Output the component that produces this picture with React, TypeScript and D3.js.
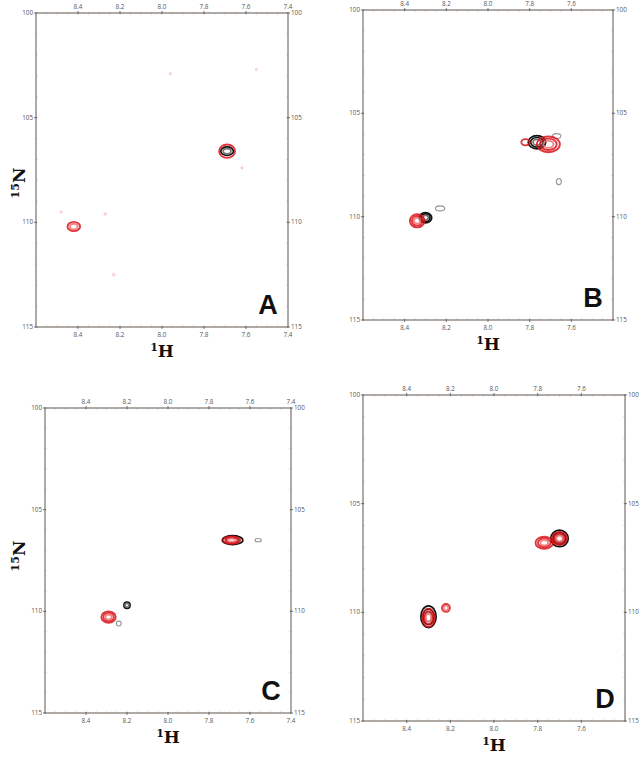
import React from "react";
import * as d3 from "d3";

// 1H / 15N ranges and ticks
const hDomain = [8.6, 7.4];
const nDomain = [100, 115];
const hTicks = [8.4, 8.2, 8.0, 7.8, 7.6, 7.4];
const nTicks = [100, 105, 110, 115];

// peaks: [1H ppm, 15N ppm, half width 1H, half width 15N, contour levels]
type Peak = [number, number, number, number, number];

const blackA: Peak[] = [[7.69, 106.6, 0.03, 0.2, 2]];
const redA: Peak[] = [[7.69, 106.6, 0.038, 0.32, 1], [8.42, 110.2, 0.03, 0.22, 2]];
const specksA: Peak[] = [
  [8.27, 109.6, 0.006, 0.06, 1], [7.96, 102.9, 0.005, 0.05, 1], [7.55, 102.7, 0.005, 0.05, 1],
  [8.23, 112.5, 0.006, 0.06, 1], [8.48, 109.5, 0.005, 0.05, 1], [7.62, 107.4, 0.005, 0.05, 1],
];

const blackB: Peak[] = [[7.765, 106.4, 0.042, 0.32, 3], [8.3, 110.05, 0.03, 0.25, 3]];
const redB: Peak[] = [[7.71, 106.5, 0.055, 0.38, 3], [8.34, 110.2, 0.035, 0.32, 3], [7.82, 106.4, 0.02, 0.15, 1]];
const grayB: Peak[] = [[7.67, 106.1, 0.02, 0.12, 1], [7.66, 108.3, 0.012, 0.15, 1], [8.23, 109.6, 0.022, 0.12, 1]];

const blackC: Peak[] = [[7.685, 106.5, 0.05, 0.22, 2], [8.2, 109.7, 0.015, 0.15, 2]];
const redC: Peak[] = [[7.69, 106.5, 0.042, 0.18, 3], [8.29, 110.28, 0.035, 0.28, 3]];
const grayC: Peak[] = [[8.24, 110.6, 0.012, 0.12, 1], [7.56, 106.5, 0.015, 0.08, 1]];

const blackD: Peak[] = [[7.7, 106.6, 0.04, 0.38, 3], [8.3, 110.2, 0.035, 0.5, 3]];
const redD: Peak[] = [[7.7, 106.6, 0.034, 0.3, 3], [7.77, 106.8, 0.04, 0.28, 3], [8.3, 110.25, 0.028, 0.42, 3], [8.22, 109.8, 0.018, 0.18, 2]];

const letters = ["A", "B", "C", "D"];
const hTopLabels = [hTicks, hTicks.slice(0, 5), hTicks, hTicks.slice(0, 5)];

const panels = [
  { x0: 36, x1: 288, y0: 13, y1: 327, black: blackA, red: redA, gray: specksA, nx: 11, ny: 183 },
  { x0: 363, x1: 613, y0: 10, y1: 320, black: blackB, red: redB, gray: grayB, nx: 0, ny: 0 },
  { x0: 45, x1: 291, y0: 408, y1: 713, black: blackC, red: redC, gray: grayC, nx: 20, ny: 556 },
  { x0: 363, x1: 625, y0: 395, y1: 721, black: blackD, red: redD, gray: [] as Peak[], nx: 0, ny: 0 },
];

function Peaks({ peaks, x, y, kind }: { peaks: Peak[]; x: any; y: any; kind: string }) {
  const out: any[] = [];
  peaks.forEach((p, i) => {
    const cx = x(p[0]);
    const cy = y(p[1]);
    const rx = Math.abs(x(p[0] + p[2]) - cx);
    const ry = Math.abs(y(p[1] + p[3]) - cy);
    for (let l = 0; l < p[4]; l++) {
      const f = 1 - l / (p[4] + 0.6);
      let stroke = "#111";
      let sw = 1.7;
      let op = 1;
      if (kind === "red") { stroke = l === p[4] - 1 && p[4] > 1 ? "#f07070" : "#d8141a"; sw = 1.9; op = 0.85; }
      if (kind === "gray") { stroke = "#8a8a8a"; sw = 1.1; op = 0.9; }
      if (kind === "speck") { stroke = "#f29a9a"; sw = 1; op = 0.6; }
      if (kind === "black" && l === p[4] - 1 && p[4] > 1) stroke = "#777";
      out.push(
        <ellipse key={i + "-" + l} cx={cx} cy={cy} rx={rx * f} ry={ry * f}
          fill="none" stroke={stroke} strokeWidth={sw} opacity={op} />
      );
    }
  });
  return <g>{out}</g>;
}

function Panel({ idx }: { idx: number }) {
  const p = panels[idx];
  const x = d3.scaleLinear().domain(hDomain).range([p.x0, p.x1]);
  const y = d3.scaleLinear().domain(nDomain).range([p.y0, p.y1]);
  const minorH = d3.range(8.6, 7.399, -0.05);
  const minorN = d3.range(100, 115.01, 1);
  const frame = "#9b9590";
  const labelStyle = { fontFamily: "'Open Sans', sans-serif", fontSize: 6.3, fill: "#555" };
  const hLabels = hTopLabels[idx];
  return (
    <g>
      <rect x={p.x0} y={p.y0} width={p.x1 - p.x0} height={p.y1 - p.y0} fill="none" stroke={frame} strokeWidth={1.6} />
      {minorH.map((v, i) => (
        <g key={"mh" + i} stroke={frame} strokeWidth={0.6}>
          <line x1={x(v)} x2={x(v)} y1={p.y0} y2={p.y0 + 1.5} />
          <line x1={x(v)} x2={x(v)} y1={p.y1} y2={p.y1 - 1.5} />
        </g>
      ))}
      {minorN.map((v, i) => (
        <g key={"mn" + i} stroke={frame} strokeWidth={0.6}>
          <line x1={p.x0} x2={p.x0 + 1.5} y1={y(v)} y2={y(v)} />
          <line x1={p.x1} x2={p.x1 - 1.5} y1={y(v)} y2={y(v)} />
        </g>
      ))}
      {hTicks.slice(0, 5).map((v) => (
        <g key={"th" + v} stroke="#555" strokeWidth={0.8}>
          <line x1={x(v)} x2={x(v)} y1={p.y0 - 2} y2={p.y0 + 1} />
          <line x1={x(v)} x2={x(v)} y1={p.y1 - 1} y2={p.y1 + 2} />
        </g>
      ))}
      {nTicks.map((v) => (
        <g key={"tn" + v} stroke="#555" strokeWidth={0.8}>
          <line x1={p.x0 - 2} x2={p.x0 + 1} y1={y(v)} y2={y(v)} />
          <line x1={p.x1 - 1} x2={p.x1 + 2} y1={y(v)} y2={y(v)} />
        </g>
      ))}
      {hLabels.map((v) => (
        <g key={"lh" + v}>
          <text x={x(v)} y={p.y0 - 4} textAnchor="middle" {...labelStyle}>{v.toFixed(1)}</text>
          <text x={x(v)} y={p.y1 + 10} textAnchor="middle" {...labelStyle}>{v.toFixed(1)}</text>
        </g>
      ))}
      {nTicks.map((v) => (
        <g key={"ln" + v}>
          <text x={p.x0 - 3} y={y(v) + 2} textAnchor="end" {...labelStyle}>{v}</text>
          <text x={p.x1 + 3} y={y(v) + 2} textAnchor="start" {...labelStyle}>{v}</text>
        </g>
      ))}
      <clipPath id={"clip" + idx}>
        <rect x={p.x0} y={p.y0} width={p.x1 - p.x0} height={p.y1 - p.y0} />
      </clipPath>
      <g clipPath={`url(#clip${idx})`}>
        <Peaks peaks={p.gray} x={x} y={y} kind={idx === 0 ? "speck" : "gray"} />
        <Peaks peaks={p.black} x={x} y={y} kind="black" />
        <Peaks peaks={p.red} x={x} y={y} kind="red" />
      </g>
      <text x={p.x1 - 20} y={p.y1 - 13} textAnchor="middle"
        style={{ fontFamily: "'Liberation Sans', Arial, sans-serif", fontWeight: 700, fontSize: 27, fill: "#111" }}>
        {letters[idx]}
      </text>
      <text x={(p.x0 + p.x1) / 2} y={p.y1 + 30} textAnchor="middle"
        style={{ fontFamily: "'DejaVu Serif', serif", fontWeight: 700, fontSize: 17, fill: "#111" }}>
        <tspan fontSize={11} dy={-6}>1</tspan>
        <tspan dy={6}>H</tspan>
      </text>
      {idx % 2 === 0 && (
        <text transform={`translate(${p.x0 - p.nx},${p.ny}) rotate(-90)`} textAnchor="middle"
          style={{ fontFamily: "'DejaVu Serif', serif", fontWeight: 700, fontSize: 17, fill: "#111" }}>
          <tspan fontSize={11} dy={-6}>15</tspan>
          <tspan dy={6}>N</tspan>
        </text>
      )}
    </g>
  );
}

export default function App() {
  return (
    <svg width={642} height={757} style={{ position: "absolute", left: 0, top: 0, background: "#fff" }}>
      {panels.map((_, i) => <Panel key={i} idx={i} />)}
    </svg>
  );
}
